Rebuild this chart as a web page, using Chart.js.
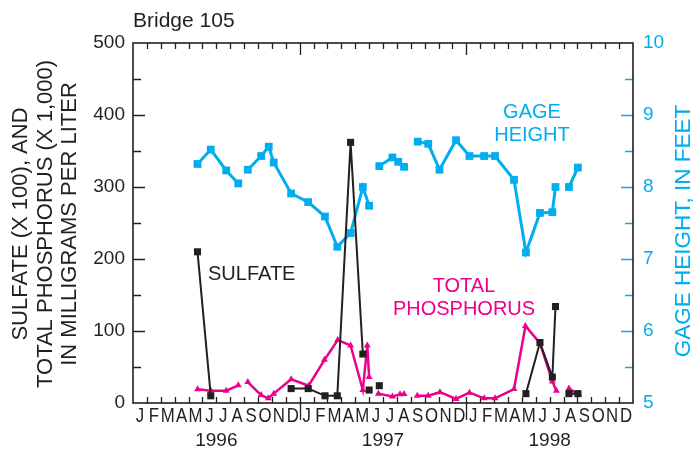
<!DOCTYPE html>
<html>
<head>
<meta charset="utf-8">
<script src="https://cdn.jsdelivr.net/npm/chart.js@4"></script>
<style>
  html, body { margin: 0; padding: 0; background: #fff; }
  #chart { display: block; }
</style>
</head>
<body>
<canvas id="chart" width="694" height="457"></canvas>
<script>
const monthLetters = ['J', 'F', 'M', 'A', 'M', 'J', 'J', 'A', 'S', 'O', 'N', 'D'];
const yearLabels = ['1996', '1997', '1998'];
const leftTicks = [0, 100, 200, 300, 400, 500];
const rightTicks = [5, 6, 7, 8, 9, 10];

// gage height, feet (null = break in the line)
const gageDates = ['1996-05-21', '1996-06-19', '1996-07-23', '1996-08-19', '1996-08-28',
    '1996-09-09', '1996-10-08', '1996-10-25', '1996-11-05', '1996-12-13', '1997-01-20',
    '1997-02-24', '1997-03-23', '1997-04-21', '1997-05-18', '1997-06-01', '1997-06-12',
    '1997-06-23', '1997-07-22', '1997-08-04', '1997-08-17', '1997-09-01',
    '1997-09-16', '1997-10-09', '1997-11-03', '1997-12-09', '1998-01-08', '1998-02-09',
    '1998-03-03', '1998-04-14', '1998-05-10', '1998-06-10', '1998-07-07', '1998-07-14', '1998-07-25',
    '1998-08-13', '1998-09-02'];
const gageFeet = [8.32, 8.52, 8.23, 8.05, null,
    8.24, 8.43, 8.56, 8.34, 7.91, 7.79,
    7.59, 7.17, 7.36, 8.0, 7.74, null,
    8.29, 8.41, 8.35, 8.28, null,
    8.63, 8.60, 8.24, 8.65, 8.43, 8.43,
    8.43, 8.10, 7.09, 7.64, 7.65, 8.0, null,
    8.0, 8.27];

// sulfate (x 100), mg/L
const sulfateDates = ['1996-05-21', '1996-06-19', '1996-09-01',
    '1996-12-13', '1997-01-20', '1997-02-24', '1997-03-23', '1997-04-21', '1997-05-18', '1997-05-25',
    '1997-06-01', '1997-06-12', '1997-06-23', '1997-09-01',
    '1998-05-10', '1998-06-10', '1998-07-07', '1998-07-14', '1998-07-25',
    '1998-08-13', '1998-09-02'];
const sulfateValues = [210, 10, null,
    20, 20, 10, 10, 362, 68, null,
    18, null, 24, null,
    13, 84, 36, 134, null,
    13, 13];

// total phosphorus (x 1,000), mg/L
const phosDates = ['1996-05-21', '1996-06-19', '1996-07-23', '1996-08-19', '1996-08-28',
    '1996-09-09', '1996-10-08', '1996-10-24', '1996-11-05', '1996-12-13', '1997-01-21',
    '1997-02-23', '1997-03-24', '1997-04-21', '1997-05-18', '1997-05-28', '1997-06-01', '1997-06-10',
    '1997-06-21', '1997-07-22', '1997-08-08', '1997-08-17', '1997-09-01',
    '1997-09-15', '1997-10-09', '1997-11-04', '1997-12-09', '1998-01-08', '1998-02-09',
    '1998-03-03', '1998-04-14', '1998-05-09', '1998-06-10', '1998-07-07', '1998-07-16', '1998-07-25',
    '1998-08-13', '1998-09-04'];
const phosValues = [19, 17, 17, 24.5, null,
    29, 11, 6.5, 13, 33, 24,
    60, 87.5, 80, 18, 80, 36, null,
    13, 9, 12, 12.5, null,
    10, 10, 15, 5.6, 14.4, 6.5,
    6.5, 19.4, 107, 83, 30, 17, null,
    20, 12];

const CYAN = '#00aeef';
const MAGENTA = '#ec008c';
const INK = '#231f20';
const FONT = '"Liberation Sans", Arial, Helvetica, sans-serif';

// months since 1 Jan 1996
function monthOffset(dateStr) {
    const [y, m, d] = dateStr.split('-').map(Number);
    const dim = new Date(y, m, 0).getDate();
    return (y - 1996) * 12 + (m - 1) + (d - 1) / dim;
}

function toPoints(dates, values) {
    return dates.map((d, i) => ({ x: monthOffset(d), y: values[i] }));
}

const frame = {
    id: 'frame',
    beforeDatasetsDraw(chart) {
        const { ctx, chartArea: a, scales } = chart;
        const xs = scales.x, yl = scales.y, yr = scales.y2;
        ctx.save();
        ctx.lineWidth = 1.3;
        ctx.strokeStyle = INK;
        ctx.beginPath();
        for (let m = 1; m < 36; m++) {
            const x = Math.round(xs.getPixelForValue(m)) + 0.5;
            const yearTick = m % 12 === 0;
            ctx.moveTo(x, a.top);
            ctx.lineTo(x, a.top + (yearTick ? 12 : 6));
            ctx.moveTo(x, a.bottom);
            ctx.lineTo(x, a.bottom - 6);
            if (yearTick) {
                ctx.moveTo(x, a.bottom);
                ctx.lineTo(x, a.bottom + 17);
            }
        }
        for (let v = 50; v < 500; v += 50) {
            const y = Math.round(yl.getPixelForValue(v)) + 0.5;
            ctx.moveTo(a.left, y);
            ctx.lineTo(a.left + (v % 100 === 0 ? 12 : 8), y);
        }
        ctx.stroke();

        ctx.strokeStyle = CYAN;
        ctx.lineWidth = 1.6;
        ctx.beginPath();
        for (let v = 5.5; v < 10; v += 0.5) {
            const y = Math.round(yr.getPixelForValue(v)) + 0.5;
            ctx.moveTo(a.right, y);
            ctx.lineTo(a.right - (v % 1 === 0 ? 12 : 8), y);
        }
        ctx.stroke();

        ctx.strokeStyle = INK;
        ctx.lineWidth = 1.6;
        ctx.strokeRect(a.left, a.top, a.right - a.left, a.bottom - a.top);
        ctx.restore();
    },
    afterDraw(chart) {
        const { ctx, chartArea: a, scales } = chart;
        const xs = scales.x, yl = scales.y, yr = scales.y2;
        ctx.save();
        ctx.textBaseline = 'middle';

        // title
        ctx.fillStyle = INK;
        ctx.font = '21px ' + FONT;
        ctx.textAlign = 'left';
        ctx.fillText('Bridge 105', a.left, 21);

        // left ticks
        ctx.font = '19px ' + FONT;
        ctx.textAlign = 'right';
        leftTicks.forEach(v => ctx.fillText(String(v), a.left - 8, yl.getPixelForValue(v)));

        // right ticks
        ctx.fillStyle = CYAN;
        ctx.textAlign = 'left';
        rightTicks.forEach(v => ctx.fillText(String(v), a.right + 10, yr.getPixelForValue(v)));

        // month letters
        ctx.fillStyle = INK;
        ctx.textAlign = 'center';
        ctx.font = '21px ' + FONT;
        for (let m = 0; m < 36; m++) {
            const x = xs.getPixelForValue(m + 0.5);
            ctx.save();
            ctx.translate(x, a.bottom + 13);
            ctx.scale(0.8, 1);
            ctx.fillText(monthLetters[m % 12], 0, 0);
            ctx.restore();
        }
        ctx.font = '19px ' + FONT;
        yearLabels.forEach((t, i) => ctx.fillText(t, xs.getPixelForValue(i * 12 + 6), a.bottom + 38));

        // left axis title
        const midY = (a.top + a.bottom) / 2;
        ctx.font = '22px ' + FONT;
        ['SULFATE (X 100), AND', 'TOTAL PHOSPHORUS (X 1,000)', 'IN MILLIGRAMS PER LITER'].forEach((t, i) => {
            ctx.save();
            ctx.translate(21 + i * 24.5, midY + 1);
            ctx.rotate(-Math.PI / 2);
            ctx.fillText(t, 0, 0);
            ctx.restore();
        });

        // right axis title
        ctx.fillStyle = CYAN;
        ctx.font = '22.5px ' + FONT;
        ctx.save();
        ctx.translate(684, midY + 8);
        ctx.rotate(-Math.PI / 2);
        ctx.fillText('GAGE HEIGHT, IN FEET', 0, 0);
        ctx.restore();

        // series labels
        ctx.font = '20px ' + FONT;
        ctx.fillText('GAGE', 532, 112);
        ctx.fillText('HEIGHT', 532, 135);
        ctx.fillStyle = MAGENTA;
        ctx.fillText('TOTAL', 464, 286);
        ctx.fillText('PHOSPHORUS', 464, 309);
        ctx.fillStyle = INK;
        ctx.textAlign = 'left';
        ctx.fillText('SULFATE', 208, 274);
        ctx.restore();
    }
};

new Chart(document.getElementById('chart'), {
    type: 'line',
    data: {
        datasets: [
            {
                label: 'Sulfate',
                data: toPoints(sulfateDates, sulfateValues),
                yAxisID: 'y',
                borderColor: INK,
                backgroundColor: INK,
                borderWidth: 2,
                pointStyle: 'rect',
                pointRadius: 5,
                pointBorderWidth: 0,
                tension: 0
            },
            {
                label: 'Total phosphorus',
                data: toPoints(phosDates, phosValues),
                yAxisID: 'y',
                borderColor: MAGENTA,
                backgroundColor: MAGENTA,
                borderWidth: 2.5,
                pointStyle: 'triangle',
                pointRadius: 4,
                pointBorderWidth: 0,
                tension: 0
            },
            {
                label: 'Gage height',
                data: toPoints(gageDates, gageFeet),
                yAxisID: 'y2',
                borderColor: CYAN,
                backgroundColor: CYAN,
                borderWidth: 3,
                pointStyle: 'rect',
                pointRadius: 5.5,
                pointBorderWidth: 0,
                tension: 0
            }
        ]
    },
    options: {
        responsive: false,
        devicePixelRatio: 1,
        animation: false,
        spanGaps: false,
        layout: { padding: { left: 133, top: 43, right: 61, bottom: 54 } },
        scales: {
            x: { type: 'linear', min: 0, max: 36, display: false },
            y: { min: 0, max: 500, display: false },
            y2: { min: 5, max: 10, display: false }
        },
        plugins: {
            legend: { display: false },
            tooltip: { enabled: false }
        }
    },
    plugins: [frame]
});
</script>
</body>
</html>
